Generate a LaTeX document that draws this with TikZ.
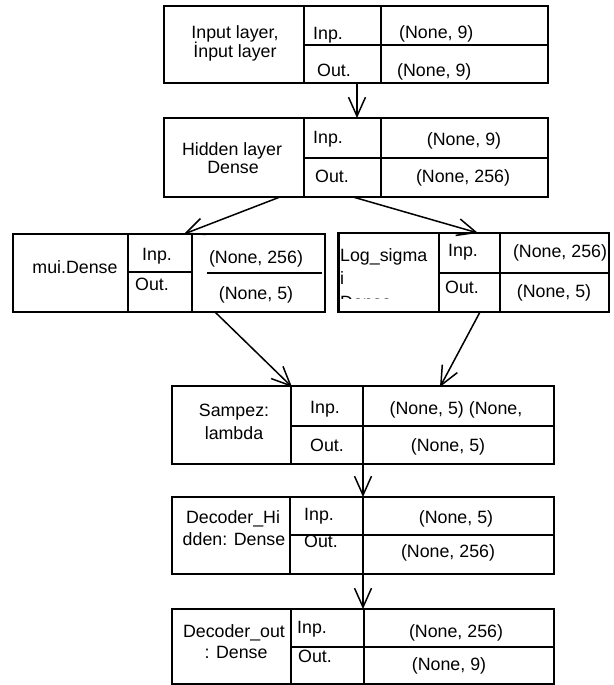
\documentclass[tikz,border=0pt]{standalone}
\usepackage{fontspec}
\setmainfont{Liberation Sans}
\usetikzlibrary{arrows.meta}

% \layerbox{name}{left}{top}{right}{bottom}{name/inp split}{inp/shape split}{row split}
\newcommand\layerbox[8]{%
  \node[box, minimum width={#4-#2}, minimum height={#5-#3}] (#1) at ({(#2+#4)/2},{(#3+#5)/2}) {};
  \draw[div] (#6,#3) -- (#6,#5);
  \draw[div] (#7,#3) -- (#7,#5);
  \draw[div] (#6,#8) -- (#4,#8);
}

\begin{document}
\begin{tikzpicture}[x=1pt,y=-1pt,
  box/.style={draw, line width=2.2pt, inner sep=0pt, outer sep=0pt},
  div/.style={line width=1.6pt},
  lbl/.style={inner sep=0pt, font=\fontsize{17.8}{20}\selectfont, anchor=base},
  lft/.style={lbl, anchor=base west},
  flow/.style={line width=1.5pt, -{Straight Barb[length=19pt,width=17pt,line width=1.5pt]}}]
\useasboundingbox (0,0) rectangle (613,685);

% layer boxes
\layerbox{inl}{164}{6}{548}{83}{304}{381}{45}
\layerbox{hid}{164}{118}{548}{197}{304}{381}{158}
\node[box, minimum width={325-13}, minimum height={312-234}] (mui) at ({(13+325)/2},{(234+312)/2}) {};
\draw[div] (128,234) -- (128,312);
\draw[div] (192,234) -- (192,312);
\draw[div] (128,272) -- (192,272);
\draw[div] (207,273) -- (322,273);
\layerbox{lsg}{338}{233}{609}{312}{439}{500}{273}
\draw[line width=3pt] (338.5,233) -- (338.5,312);
\layerbox{smp}{172}{386}{554}{464}{291}{363}{426}
\layerbox{dhd}{172}{497}{554}{574}{290}{363}{535}
\layerbox{dout}{172}{609}{554}{684}{291}{364}{647}

% texts: input layer
\node[lbl] (t1a) at (235,38) {Input layer,};
\node[lbl] (t1b) at (235,57) {İnput layer};
\node[lft] (t1c) at (313,40) {Inp.};
\node[lft] (t1d) at (399,38) {(None, 9)};
\node[lft] (t1e) at (317,77) {Out.};
\node[lft] (t1f) at (397,76) {(None, 9)};

% hidden layer
\node[lbl] (t2a) at (232,155) {Hidden layer};
\node[lbl] (t2b) at (233,173) {Dense};
\node[lft] (t2c) at (313,143) {Inp.};
\node[lbl] (t2d) at (464,145) {(None, 9)};
\node[lft] (t2e) at (315,182) {Out.};
\node[lbl] (t2f) at (463,182) {(None, 256)};

% mui
\node[lbl] (t3a) at (75,273) {mui.Dense};
\node[lft] (t3b) at (142,260) {Inp.};
\node[lbl] (t3c) at (256,263) {(None, 256)};
\node[lft] (t3d) at (135,290) {Out.};
\node[lbl] (t3e) at (256,299) {(None, 5)};

% log sigma (name cell text runs past the cell and is cut off)
\begin{scope}
  \clip (339,234) rectangle (438,298.8);
  \node[lft] (t4a) at (340,261) {Log\_sigma};
  \node[lft] (t4b) at (340,284) {i};
  \node[lft] (t4c) at (340,308.5) {Dense};
\end{scope}
\node[lft] (t4d) at (448,256) {Inp.};
\node[lbl] (t4e) at (560,257) {(None, 256)};
\node[lft] (t4f) at (445,293) {Out.};
\node[lbl] (t4g) at (554,297) {(None, 5)};

% sampling
\node[lbl] (t5a) at (234,416) {Sampez:};
\node[lbl] (t5b) at (234,439) {lambda};
\node[lft] (t5c) at (310,413) {Inp.};
\node[lbl] (t5d) at (456,414) {(None, 5) (None,};
\node[lft] (t5e) at (310,451) {Out.};
\node[lbl] (t5f) at (448,451) {(None, 5)};

% decoder hidden
\node[lbl] (t6a) at (233,523) {Decoder\_Hi};
\node[lbl] (t6b) at (234,545) {dden: Dense};
\node[lft] (t6c) at (304,520) {Inp.};
\node[lbl] (t6d) at (456,523) {(None, 5)};
\node[lft] (t6e) at (304,547) {Out.};
\node[lbl] (t6f) at (448,557) {(None, 256)};

% decoder out
\node[lbl] (t7a) at (234,637) {Decoder\_out};
\node[lbl] (t7b) at (236,658) {: Dense};
\node[lft] (t7c) at (297,633) {Inp.};
\node[lbl] (t7d) at (456,637) {(None, 256)};
\node[lft] (t7e) at (298,662) {Out.};
\node[lbl] (t7f) at (449,670) {(None, 9)};

% connector end points on box edges
\coordinate (inlS) at (357,83);
\coordinate (hidN) at (357,118);
\coordinate (hidSL) at (280,197);
\coordinate (hidSR) at (353,197);
\coordinate (muiN) at (184,234);
\coordinate (muiS) at (215,312);
\coordinate (lsgN) at (478,233);
\coordinate (lsgS) at (480,312);
\coordinate (smpNL) at (292,387);
\coordinate (smpNR) at (440,387);
\coordinate (smpS) at (363,464);
\coordinate (dhdN) at (363,497);
\coordinate (dhdS) at (363,574);
\coordinate (doutN) at (363,609);

% connectors
\draw[flow] (inlS) -- (hidN);
\draw[flow] (hidSL) -- (muiN);
\draw[flow] (hidSR) -- (lsgN);
\draw[flow] (muiS) -- (smpNL);
\draw[flow] (lsgS) -- (smpNR);
\draw[flow] (smpS) -- (dhdN);
\draw[flow] (dhdS) -- (doutN);
\end{tikzpicture}
\end{document}
